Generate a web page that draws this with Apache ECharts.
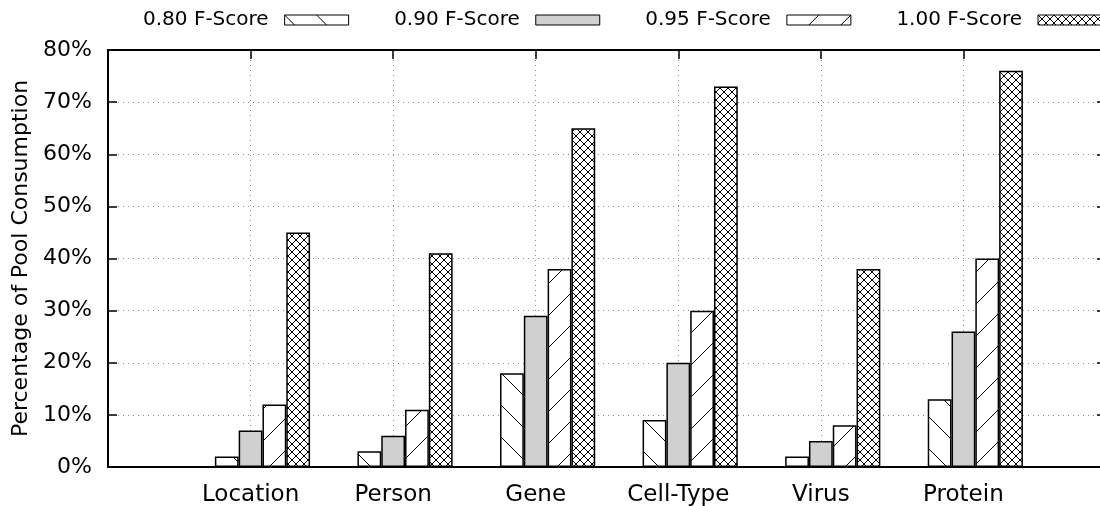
<!DOCTYPE html>
<html>
<head>
<meta charset="utf-8">
<script src="https://cdn.jsdelivr.net/npm/echarts@6/dist/echarts.min.js"></script>
<style>
  html, body { margin: 0; padding: 0; background: #fff; }
  #chart { width: 1100px; height: 506px; }
</style>
</head>
<body>
<div id="chart"></div>
<script>
  var categories = ['Location', 'Person', 'Gene', 'Cell-Type', 'Virus', 'Protein'];
  var seriesNames = ['0.80 F-Score', '0.90 F-Score', '0.95 F-Score', '1.00 F-Score'];
  var score080 = [2, 3, 18, 9, 2, 13];
  var score090 = [7, 6, 29, 20, 5, 26];
  var score095 = [12, 11, 38, 30, 8, 40];
  var score100 = [45, 41, 65, 73, 38, 76];
  var yTicks = [0, 10, 20, 30, 40, 50, 60, 70, 80];

  var font = 'DejaVu Sans';

  // hatch fill made on a small canvas, repeated by echarts
  function hatch(kind, size) {
    var c = document.createElement('canvas');
    c.width = size;
    c.height = size;
    var ctx = c.getContext('2d');
    ctx.fillStyle = '#fff';
    ctx.fillRect(0, 0, size, size);
    ctx.strokeStyle = '#000';
    ctx.lineWidth = 1;
    ctx.beginPath();
    for (var k = -1; k <= 1; k++) {
      var o = k * size;
      if (kind === 'back' || kind === 'cross') {
        ctx.moveTo(o, 0);
        ctx.lineTo(o + size, size);
      }
      if (kind === 'fwd' || kind === 'cross') {
        ctx.moveTo(o, size);
        ctx.lineTo(o + size, 0);
      }
    }
    ctx.stroke();
    return {image: c, repeat: 'repeat'};
  }

  // pad with empty slots so the axis runs one step past each end
  function pad(arr) {
    return ['-'].concat(arr, ['-']);
  }

  var fills = [hatch('back', 32), '#d0d0d0', hatch('fwd', 32), hatch('cross', 8)];
  var values = [score080, score090, score095, score100];

  var series = [{
    // empty slot so the 0.90 bar sits on the tick
    name: 'slot',
    type: 'bar',
    data: [],
    barWidth: 23.8,
    barGap: '0%'
  }];
  for (var i = 0; i < seriesNames.length; i++) {
    series.push({
      name: seriesNames[i],
      type: 'bar',
      data: pad(values[i]),
      barWidth: 23.8,
      barGap: '0%',
      itemStyle: {
        color: fills[i],
        borderColor: '#000',
        borderWidth: 1.5
      }
    });
  }

  var dotted = {color: '#8a8a8a', width: 1, type: [1, 4]};
  var axisLine = {show: true, onZero: false, lineStyle: {color: '#000', width: 2}};
  var tick = {show: true, inside: true, length: 9, lineStyle: {color: '#000', width: 1.5}};
  var xData = [''].concat(categories, ['']);

  var myChart = echarts.init(document.getElementById('chart'));
  var option = {
    animation: false,
    backgroundColor: '#fff',
    textStyle: {fontFamily: font},
    legend: {
      data: seriesNames,
      left: 143,
      top: 10,
      width: 1100,
      padding: 0,
      align: 'right',
      icon: 'rect',
      itemWidth: 64,
      itemHeight: 10,
      itemGap: 45,
      selectedMode: false,
      itemStyle: {borderColor: '#000', borderWidth: 1},
      textStyle: {fontFamily: font, fontSize: 20, color: '#000', padding: [0, 11, 0, 0]}
    },
    grid: {left: 108, right: -6, top: 50, bottom: 39, containLabel: false, outerBoundsMode: 'none'},
    xAxis: [{
      type: 'category',
      data: xData,
      boundaryGap: false,
      axisLine: axisLine,
      axisTick: tick,
      axisLabel: {color: '#000', fontSize: 23, fontFamily: font, margin: 17, interval: 0},
      splitLine: {show: true, lineStyle: dotted}
    }, {
      type: 'category',
      data: xData,
      position: 'top',
      boundaryGap: false,
      axisLine: axisLine,
      axisTick: tick,
      axisLabel: {show: false},
      splitLine: {show: false}
    }],
    yAxis: [{
      type: 'value',
      min: yTicks[0],
      max: yTicks[yTicks.length - 1],
      interval: 10,
      name: 'Percentage of Pool Consumption',
      nameLocation: 'middle',
      nameRotate: 90,
      nameGap: 73,
      nameTextStyle: {color: '#000', fontSize: 22, fontFamily: font},
      axisLine: axisLine,
      axisTick: tick,
      axisLabel: {color: '#000', fontSize: 22, fontFamily: font, margin: 16, formatter: '{value}%'},
      splitLine: {show: true, lineStyle: dotted}
    }, {
      type: 'value',
      position: 'right',
      min: yTicks[0],
      max: yTicks[yTicks.length - 1],
      interval: 10,
      axisLine: axisLine,
      axisTick: tick,
      axisLabel: {show: false},
      splitLine: {show: false}
    }],
    series: series
  };
  myChart.setOption(option);
</script>
</body>
</html>
